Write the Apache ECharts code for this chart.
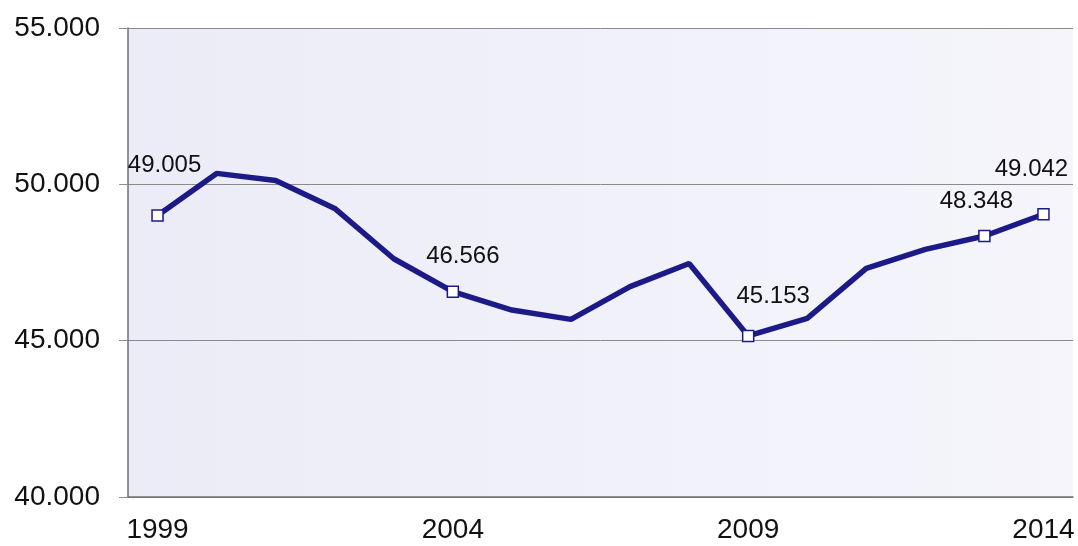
<!DOCTYPE html>
<html>
<head>
    <meta charset="utf-8">
    <title>1999-2014</title>
    <script src="https://cdn.jsdelivr.net/npm/echarts@6/dist/echarts.min.js"></script>
    <style>
        html, body { margin: 0; padding: 0; background: #fff; }
        #chart { width: 1078px; height: 546px; }
    </style>
</head>
<body>
<div id="chart"></div>
<script>
    // years on the x axis
    var years = ['1999', '2000', '2001', '2002', '2003', '2004', '2005', '2006',
                 '2007', '2008', '2009', '2010', '2011', '2012', '2013', '2014'];
    // values (labelled ones are exact)
    var values = [49.005, 50.35, 50.12, 49.23, 47.62, 46.566, 45.98, 45.68,
                  46.73, 47.47, 45.153, 45.71, 47.31, 47.92, 48.348, 49.042];
    // points that carry a marker and a value label
    var labelled = [0, 5, 10, 14, 15];
    var yTicks = [40, 45, 50, 55];

    // where each label sits relative to its point
    var labelOffsets = {0: [7, -27], 5: [10, -12], 10: [25, -16], 14: [-8, -11], 15: [-12, -22]};

    var seriesData = values.map(function (v, i) {
        if (labelled.indexOf(i) >= 0) {
            return {
                value: v,
                symbol: 'rect',
                label: { show: true, offset: labelOffsets[i] }
            };
        }
        return { value: v, symbol: 'none' };
    });

    var chart = echarts.init(document.getElementById('chart'));
    var option = {
        animation: false,
        textStyle: { fontFamily: 'Liberation Sans, Arial, sans-serif' },
        grid: {
            left: 128, right: 5, top: 28, bottom: 49,
            show: true,
            borderWidth: 0,
            backgroundColor: {
                type: 'linear', x: 0, y: 0, x2: 1, y2: 0,
                colorStops: [
                    { offset: 0, color: '#ECECF8' },
                    { offset: 1, color: '#F5F5FB' }
                ]
            }
        },
        xAxis: {
            type: 'category',
            data: years,
            boundaryGap: true,
            axisLine: { lineStyle: { color: '#707070', width: 1.5 } },
            axisTick: { interval: 0, length: 5, lineStyle: { color: '#909090' } },
            axisLabel: {
                interval: 4,
                margin: 19,
                fontSize: 28,
                color: '#111'
            },
            splitLine: { show: false }
        },
        yAxis: {
            type: 'value',
            min: yTicks[0],
            max: yTicks[yTicks.length - 1],
            interval: 5,
            axisLine: { show: true, lineStyle: { color: '#707070', width: 1.5 } },
            axisTick: { show: true, length: 9, lineStyle: { color: '#909090' } },
            axisLabel: {
                margin: 28,
                fontSize: 28,
                color: '#111',
                formatter: function (v) { return v.toFixed(3); }
            },
            splitLine: { lineStyle: { color: '#8A8A8A', width: 1 } }
        },
        series: [{
            type: 'line',
            data: seriesData,
            symbolSize: 11,
            showAllSymbol: true,
            lineStyle: { color: '#1C1A86', width: 5.5 },
            itemStyle: { color: '#FFFFFF', borderColor: '#1C1A86', borderWidth: 1.5 },
            label: {
                position: 'top',
                fontSize: 24,
                color: '#111',
                formatter: function (p) { return p.value.toFixed(3); }
            },
            z: 3
        }]
    };
    chart.setOption(option);
</script>
</body>
</html>
